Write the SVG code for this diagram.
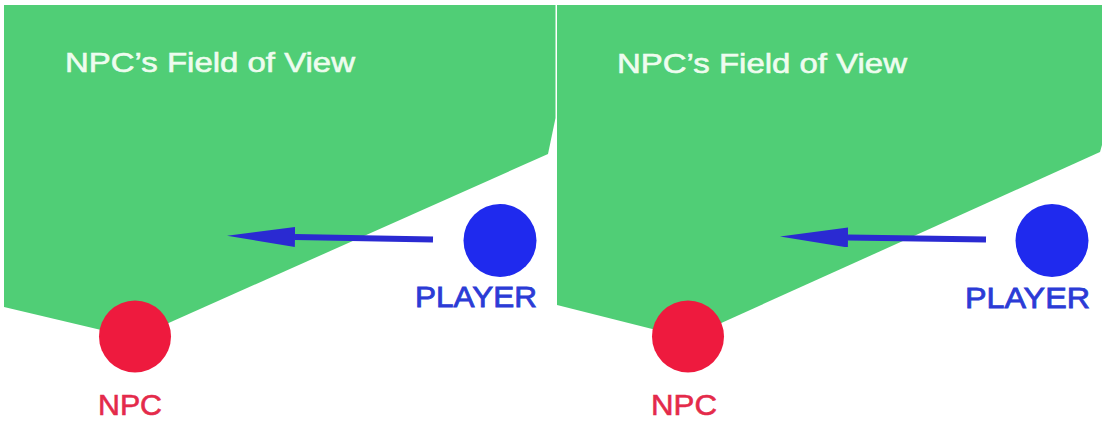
<svg xmlns="http://www.w3.org/2000/svg" width="1102" height="427" viewBox="0 0 1102 427">
<style>
.fov{fill:#50ce76;}
.title{font-family:"Liberation Sans",Arial,sans-serif;font-size:28px;fill:#eefcef;stroke:#eefcef;stroke-width:0.6px;}
.npc{fill:#ee1a3e;}
.npc-label{font-family:"Liberation Sans",Arial,sans-serif;font-size:30px;fill:#e42a4a;stroke:#e42a4a;stroke-width:0.6px;}
.player{fill:#1f2aee;}
.player-label{font-family:"Liberation Sans",Arial,sans-serif;font-size:29px;fill:#2b3bd6;stroke:#2b3bd6;stroke-width:0.8px;}
.arrow{stroke:#2a2ad2;stroke-width:6;fill:none;marker-end:url(#head);}
</style>
<defs>
<marker id="head" markerUnits="userSpaceOnUse" markerWidth="68" markerHeight="20" viewBox="0 0 68 20" refX="0" refY="10" orient="auto">
<path d="M0,0 L68,10 L0,20 Z" fill="#2a2ad2"/>
</marker>
</defs>
<rect width="1102" height="427" fill="#ffffff"/>
<g id="fov-left">
<polygon class="fov" points="4,5 555.5,5 555.5,118 548,154 135,338 4,307"/>
<text class="title" x="65" y="72" textLength="290" lengthAdjust="spacingAndGlyphs">NPC’s Field of View</text>
</g>
<g id="fov-right">
<polygon class="fov" points="557,5 1102,5 1102,145 1100,152 688,338 557,305"/>
<text class="title" x="617" y="73" textLength="290" lengthAdjust="spacingAndGlyphs">NPC’s Field of View</text>
</g>
<g id="connectors">
<line class="arrow" x1="433" y1="239.5" x2="295" y2="237"/>
<line class="arrow" x1="986" y1="239.5" x2="848" y2="237.5"/>
</g>
<g id="npc-left">
<circle class="npc" cx="135" cy="336.5" r="36"/>
<text class="npc-label" x="98" y="415" textLength="64" lengthAdjust="spacingAndGlyphs">NPC</text>
</g>
<g id="player-left">
<circle class="player" cx="500" cy="240.5" r="36.5"/>
<text class="player-label" x="415" y="307" textLength="122" lengthAdjust="spacingAndGlyphs">PLAYER</text>
</g>
<g id="npc-right">
<circle class="npc" cx="688" cy="336.5" r="36"/>
<text class="npc-label" x="651" y="415" textLength="66" lengthAdjust="spacingAndGlyphs">NPC</text>
</g>
<g id="player-right">
<circle class="player" cx="1052" cy="240.5" r="36.5"/>
<text class="player-label" x="965" y="308" textLength="125" lengthAdjust="spacingAndGlyphs">PLAYER</text>
</g>
</svg>
